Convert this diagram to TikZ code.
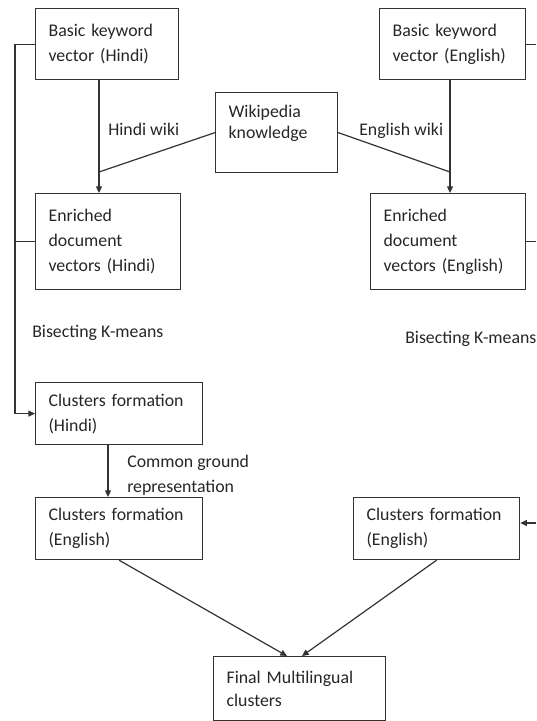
\documentclass[tikz,border=0pt]{standalone}
\usepackage{fontspec}
\setmainfont{Carlito}
\usetikzlibrary{arrows.meta}
\begin{document}
\begin{tikzpicture}[x=0.75pt,y=-0.75pt,
  every node/.style={font=\fontsize{13.35pt}{18.75pt}\selectfont, text=black!85},
  box/.style={draw=black!80, line width=0.9pt, anchor=north west, align=left, inner xsep=9.75pt, inner ysep=0pt},
  ln/.style={draw=black!80, line width=0.9pt},
  arr/.style={ln, -{Triangle[length=5pt,width=4.5pt]}},
  lbl/.style={inner sep=0pt, align=left}]
\useasboundingbox (0,0) rectangle (536,721);
\clip (0,0) rectangle (536,721);
% boxes
\node[box, minimum width=107.25pt, minimum height=53.25pt, text width=87.75pt] (B1) at (35,8) {Basic keyword\\vector (Hindi)};
\node[box, minimum width=109.5pt, minimum height=53.25pt, text width=90pt] (BE) at (379,8) {Basic keyword\\vector (English)};
\node[box, minimum width=91.5pt, minimum height=60pt, text width=72pt, font=\fontsize{13.35pt}{15.75pt}\selectfont] (W) at (215,92) {Wikipedia\\knowledge\\\mbox{}};
\node[box, minimum width=108.75pt, minimum height=72pt, text width=89.25pt] (EH) at (35,193) {Enriched\\document\\vectors (Hindi)};
\node[box, minimum width=116.25pt, minimum height=72pt, text width=96.75pt] (EE) at (370,193) {Enriched\\document\\vectors (English)};
\node[box, minimum width=125.25pt, minimum height=46.5pt, text width=105.75pt] (CH) at (35,382) {Clusters formation\\(Hindi)};
\node[box, minimum width=125.25pt, minimum height=46.5pt, text width=105.75pt] (CEL) at (35,497) {Clusters formation\\(English)};
\node[box, minimum width=124.5pt, minimum height=46.5pt, text width=105pt] (CER) at (353,497) {Clusters formation\\(English)};
\node[box, minimum width=129pt, minimum height=48pt, text width=109.5pt, font=\fontsize{13.35pt}{17.25pt}\selectfont] (F) at (213,656) {Final Multilingual\\clusters};
% labels
\node[lbl, anchor=base west] (lh) at (108,135) {Hindi wiki};
\node[lbl, anchor=base west] (le) at (359,135) {English wiki};
\node[lbl, anchor=base west] (lb1) at (32,337) {Bisecting K-means};
\node[lbl, anchor=base west] (lb2) at (405,343) {Bisecting K-means};
\node[lbl, anchor=north west] (lc) at (127,454.5) {Common ground\\representation};
% helper coordinates
\coordinate (bus) at (15,0);
\coordinate (redge) at (536,0);
\coordinate (hx) at (99,0);
\coordinate (hj) at (99,172);
\coordinate (ex) at (450,0);
\coordinate (ej) at (450,172);
\coordinate (cx) at (108,0);
\coordinate (rin) at (536,523);
\coordinate (fl) at (287,0);
\coordinate (fr) at (302,0);
% connectors
\draw[arr] (B1.west) -- (B1.west -| bus) -- (bus |- CH.west) -- (CH.west);
\draw[ln] (EH.west) -- (EH.west -| bus);
\draw[arr] (B1.south -| hx) -- (EH.north -| hx);
\draw[ln] (W.west) -- (hj);
\draw[arr] (BE.south -| ex) -- (EE.north -| ex);
\draw[ln] (W.east) -- (ej);
\draw[ln] (BE.east) -- (BE.east -| redge);
\draw[ln] (EE.east) -- (EE.east -| redge);
\draw[arr] (CH.south -| cx) -- (CEL.north -| cx);
\draw[arr] (rin) -- (rin -| CER.east);
\draw[arr] (CEL.south) -- (F.north -| fl);
\draw[arr] (CER.south) -- (F.north -| fr);
\end{tikzpicture}
\end{document}
